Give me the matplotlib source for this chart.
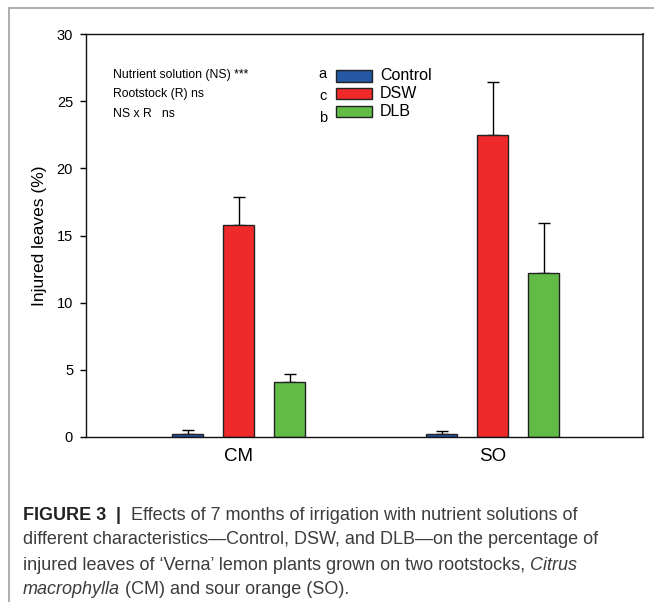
import matplotlib
matplotlib.use('Agg')
import matplotlib.pyplot as plt
import numpy as np
from matplotlib.patches import Rectangle
from matplotlib.lines import Line2D

plt.rcParams['font.family'] = ['Liberation Sans', 'DejaVu Sans']

# ------------------------------------------------------------------
# Data
# ------------------------------------------------------------------
rootstocks = ['CM', 'SO']
treatments = ['Control', 'DSW', 'DLB']
letters = ['a', 'c', 'b']

control = [0.25, 0.25]
dsw = [15.8, 22.5]
dlb = [4.1, 12.2]

control_err = [0.3, 0.18]
dsw_err = [2.05, 3.9]
dlb_err = [0.6, 3.7]

stats_lines = ['Nutrient solution (NS) ***', 'Rootstock (R) ns', 'NS x R   ns']

C_CONTROL = '#2457A5'
C_DSW = '#EE2A2B'
C_DLB = '#63BB47'
C_EDGE = '#222222'
C_FRAME = '#A8A8A8'
C_CAPTION = '#3C3C3C'

# ------------------------------------------------------------------
fig = plt.figure(figsize=(6.54, 6.02), dpi=100)
ax = fig.add_axes([0.1315, 0.2741, 0.8517, 0.6694])

x = np.arange(1, len(rootstocks) + 1)
offset = 0.201
width = 0.122
series = [(control, control_err, C_CONTROL),
          (dsw, dsw_err, C_DSW),
          (dlb, dlb_err, C_DLB)]
for i, (vals, errs, col) in enumerate(series):
    xs = x + (i - 1) * offset
    ax.bar(xs, vals, width, color=col, edgecolor=C_EDGE, linewidth=1.0,
           zorder=2)
    ax.errorbar(xs, vals, yerr=[np.zeros(len(vals)), errs], fmt='none',
                ecolor='black', elinewidth=1.0, capsize=4.3, capthick=1.0,
                zorder=1)

ax.set_xlim(0.398, 2.593)
ax.set_ylim(0, 30)
ax.set_yticks(range(0, 31, 5))
ax.set_xticks(x)
ax.set_xticklabels(rootstocks, fontsize=13.5)
ax.tick_params(axis='x', length=0, pad=8)
ax.tick_params(axis='y', direction='out', length=4.3, width=1.0,
               labelsize=10.5, pad=5.0)
ax.set_ylabel('Injured leaves (%)', fontsize=12.5, labelpad=7)
for s in ['top', 'bottom', 'left']:
    ax.spines[s].set_linewidth(1.0)
    ax.spines[s].set_color('#111111')
ax.spines['right'].set_linewidth(1.4)
ax.spines['right'].set_color('#555555')

# statistics text block
for j, line in enumerate(stats_lines):
    ax.text(0.0485, 0.898 - j * 0.048, line, transform=ax.transAxes,
            fontsize=8.8, ha='left', va='center')

# hand-made legend with significance letters
letter_y = [0.901, 0.846, 0.792]
for j, (name, (_, _, col)) in enumerate(zip(treatments, series)):
    yb = 0.8817 - j * 0.0442
    ax.add_patch(Rectangle((0.449, yb), 0.0646, 0.0285,
                           transform=ax.transAxes, facecolor=col,
                           edgecolor=C_EDGE, linewidth=1.0, clip_on=False))
    ax.text(0.528, yb + 0.0155, name, transform=ax.transAxes,
            fontsize=11.5, ha='left', va='center')
    ax.text(0.425, letter_y[j], letters[j], transform=ax.transAxes,
            fontsize=10.5, ha='center', va='center')

# page frame lines (left and top)
fig.add_artist(Line2D([9 / 654, 9 / 654], [0, 1 - 8 / 602],
                      transform=fig.transFigure, color=C_FRAME, lw=1.3))
fig.add_artist(Line2D([9 / 654, 1], [1 - 8 / 602, 1 - 8 / 602],
                      transform=fig.transFigure, color=C_FRAME, lw=1.3))

# ------------------------------------------------------------------
# Caption, built piece by piece so bold / italic runs sit inline
# ------------------------------------------------------------------
renderer = fig.canvas.get_renderer()
cap_fs = 13.0
x0 = 23 / 654
line_y = [1 - 515 / 602, 1 - 540 / 602, 1 - 565 / 602, 1 - 590 / 602]
caption = [
    [('FIGURE 3', 'bold', 'normal', '#222222'),
     ('  |  ', 'bold', 'normal', '#222222'),
     ('Effects of 7 months of irrigation with nutrient solutions of',
      'normal', 'normal', C_CAPTION)],
    [('different characteristics\u2014Control, DSW, and DLB\u2014on the percentage of',
      'normal', 'normal', C_CAPTION)],
    [('injured leaves of \u2018Verna\u2019 lemon plants grown on two rootstocks, ',
      'normal', 'normal', C_CAPTION),
     ('Citrus', 'normal', 'italic', C_CAPTION)],
    [('macrophylla', 'normal', 'italic', C_CAPTION),
     (' (CM) and sour orange (SO).', 'normal', 'normal', C_CAPTION)],
]
for yy, parts in zip(line_y, caption):
    xx = x0
    for txt, wt, st, col in parts:
        t = fig.text(xx, yy, txt, fontsize=cap_fs, weight=wt, style=st,
                     color=col, ha='left', va='center')
        bb = t.get_window_extent(renderer=renderer)
        xx += bb.width / fig.bbox.width

fig.savefig('out.png', dpi=100)
